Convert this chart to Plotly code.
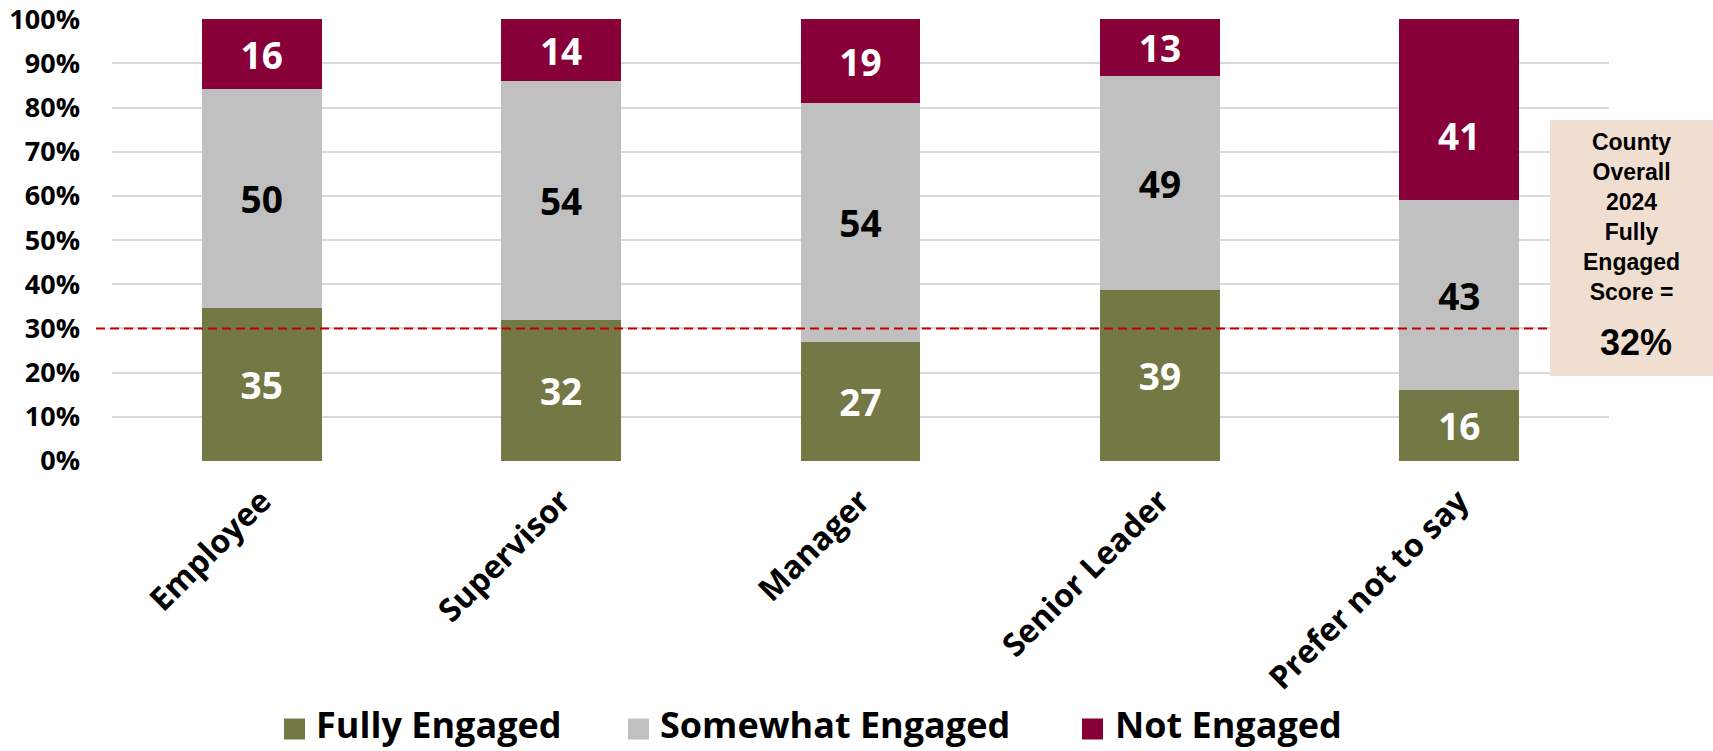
import plotly.graph_objects as go

# Engagement levels by role (percent of respondents)
roles = ["Employee", "Supervisor", "Manager", "Senior Leader", "Prefer not to say"]
fully_engaged = [35, 32, 27, 39, 16]
somewhat_engaged = [50, 54, 54, 49, 43]
not_engaged = [16, 14, 19, 13, 41]

series_names = ["Fully Engaged", "Somewhat Engaged", "Not Engaged"]
series_colors = ["#737845", "#C0C0C0", "#870037"]
label_colors = ["white", "black", "white"]

benchmark_line = 30
county_score_text = "32%"
y_ticks = list(range(0, 101, 10))
y_tick_text = [f"{v}%" for v in y_ticks]

BAR_FONT = "Open Sans"
W, H = 1713, 751
M_L, M_R, M_T, M_B = 112, 104, 19, 290
PLOT_W = W - M_L - M_R
PLOT_H = H - M_T - M_B


def px_x(px):
    """Page pixel x -> paper fraction."""
    return (px - M_L) / PLOT_W


def px_y(py):
    """Page pixel y -> paper fraction."""
    return (H - M_B - py) / PLOT_H


series_vals = [fully_engaged, somewhat_engaged, not_engaged]
totals = [sum(v) for v in zip(*series_vals)]

# the last role's "Not Engaged" label sits lower in its segment
moved_label = (2, 4)

fig = go.Figure()
for si, (name, vals, color, lc) in enumerate(zip(series_names, series_vals,
                                                  series_colors, label_colors)):
    texts = [("" if (si, i) == moved_label else str(v)) for i, v in enumerate(vals)]
    fig.add_trace(go.Bar(
        x=roles, y=vals, name=name,
        marker=dict(color=color, line=dict(width=0)),
        text=texts, texttemplate="%{text}",
        textposition="inside", insidetextanchor="middle",
        constraintext="none", textangle=0,
        textfont=dict(family=BAR_FONT, size=37, color=lc, weight="bold"),
        showlegend=False,
    ))

si, pi = moved_label
seg_base = sum(series_vals[k][pi] for k in range(si)) / totals[pi] * 100
seg_mid = seg_base + series_vals[si][pi] / totals[pi] * 50
fig.add_annotation(x=roles[pi], y=seg_mid, xref="x", yref="y",
                   text=str(series_vals[si][pi]), showarrow=False, yshift=-26,
                   font=dict(family=BAR_FONT, size=37, color=label_colors[si], weight="bold"))

# dashed benchmark line
fig.add_shape(type="line", xref="paper", yref="y",
              x0=px_x(96), x1=px_x(1547), y0=benchmark_line, y1=benchmark_line,
              line=dict(color="#C00000", width=2, dash="9px,5px"), layer="above")

# county overall score call-out box
fig.add_shape(type="rect", xref="paper", yref="paper",
              x0=px_x(1550), x1=px_x(1713), y0=px_y(376), y1=px_y(120),
              fillcolor="#F0DFD0", line=dict(width=0), layer="above")
fig.add_annotation(xref="paper", yref="paper", x=px_x(1631), y=px_y(217),
                   text="County<br>Overall<br>2024<br>Fully<br>Engaged<br>Score =",
                   showarrow=False, align="center", xanchor="center", yanchor="middle",
                   font=dict(family="Liberation Sans", size=23, color="black", weight="bold"))
fig.add_annotation(xref="paper", yref="paper", x=px_x(1636), y=px_y(342),
                   text=county_score_text, showarrow=False,
                   xanchor="center", yanchor="middle",
                   font=dict(family="Liberation Sans", size=36, color="black", weight="bold"))

# legend row: colour swatch + label
legend_swatch_x = [284, 628, 1082]
legend_text_x = [315, 659, 1114]
legend_cy = 729
for name, color, sx, tx in zip(series_names, series_colors, legend_swatch_x, legend_text_x):
    fig.add_shape(type="rect", xref="paper", yref="paper",
                  x0=px_x(sx), x1=px_x(sx + 21),
                  y0=px_y(legend_cy + 10.5), y1=px_y(legend_cy - 10.5),
                  fillcolor=color, line=dict(width=0))
    fig.add_annotation(xref="paper", yref="paper", x=px_x(tx), y=px_y(legend_cy - 5),
                       text=name, showarrow=False, xanchor="left", yanchor="middle",
                       borderpad=0,
                       font=dict(family=BAR_FONT, size=36, color="black", weight="bold"))

fig.update_layout(
    barmode="stack", barnorm="percent", bargap=0.6,
    width=W, height=H,
    margin=dict(l=M_L, r=M_R, t=M_T, b=M_B, autoexpand=False),
    plot_bgcolor="white", paper_bgcolor="white",
    font=dict(family=BAR_FONT, color="black"),
    showlegend=False,
)
fig.update_yaxes(range=[0, 100.05], tickmode="array", tickvals=y_ticks, ticktext=y_tick_text,
                 showgrid=True, gridcolor="#D9D9D9", gridwidth=2,
                 zeroline=False, showline=False, automargin=False,
                 tickfont=dict(family=BAR_FONT, size=27, color="black", weight="bold"),
                 ticks="", ticklabelstandoff=31, ticklabeloverflow="allow")
fig.update_xaxes(tickangle=-45, showline=False, ticks="", automargin=False,
                 ticklabelstandoff=14,
                 tickfont=dict(family=BAR_FONT, size=32, color="black", weight="bold"))

fig.write_html("out.html")
